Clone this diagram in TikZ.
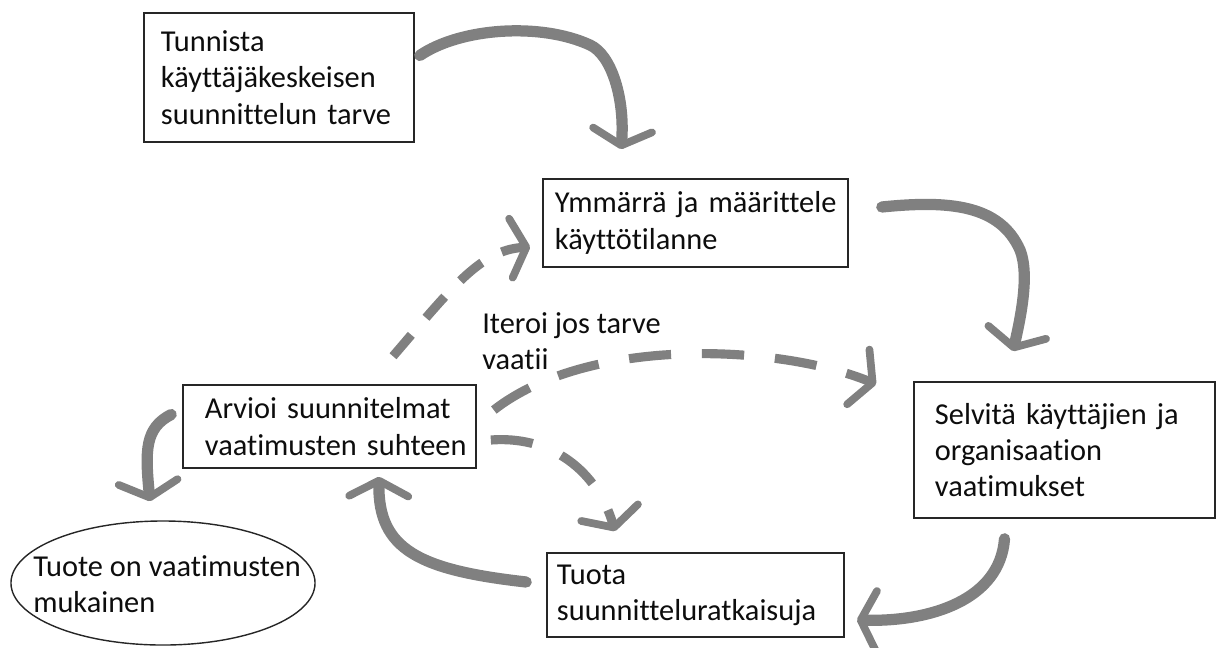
\documentclass[tikz,border=0pt]{standalone}
\usepackage{fontspec}
\setmainfont{Carlito}[Ligatures=NoCommon]
\usetikzlibrary{arrows.meta,shapes.geometric}
\begin{document}
\begin{tikzpicture}[x=0.025cm, y=-0.025cm,
  txt/.style={font={\fontsize{21.6}{25.8}\selectfont}, text=black!95},
  box/.style={txt, draw=black!85, line width=1.1pt, fill=white, align=left, inner ysep=0pt},
  flow/.style={draw=black!50, line width=8pt, line cap=round,
     -{Straight Barb[length=11pt, width=42pt, line width=5.5pt, round]}},
  dflow/.style={flow, line width=6.5pt, line cap=butt, dash pattern=on 30pt off 22pt}]
\useasboundingbox (0,0) rectangle (1216,647);

\node[box, text width=5.9cm, inner xsep=0.425cm, minimum height=3.225cm] (tunnista) at (279,77.5)
  {Tunnista\\käyttäjäkeskeisen\\suunnittelun tarve};
\node[box, text width=7.025cm, inner xsep=0.3cm, minimum height=2.2cm] (ymmarra) at (695.5,223)
  {\mbox{Ymmärrä ja määrittele}\\käyttötilanne};
\node[box, text width=6.475cm, inner xsep=0.525cm, minimum height=3.4cm] (selvita) at (1064.5,450)
  {Selvitä käyttäjien ja\\organisaation\\vaatimukset};
\node[box, text width=6.225cm, inner xsep=0.55cm, minimum height=2.075cm] (arvioi) at (329.5,426.5)
  {\mbox{Arvioi suunnitelmat}\\\mbox{vaatimusten suhteen}};
\node[box, text width=6.925cm, inner xsep=0.25cm, minimum height=2.1cm] (tuota) at (695.5,595)
  {Tuota\\suunnitteluratkaisuja};
\node[txt, draw=black!85, line width=1pt, ellipse, minimum width=7.6cm, minimum height=3.1cm, inner sep=0pt] (tuote) at (163,583)
  {\smash{\makebox[0pt]{\hspace{0.2cm}\raisebox{-8pt}{\begin{tabular}{@{}l@{}}Tuote on vaatimusten\\mukainen\end{tabular}}}}};
\node[txt, anchor=west, align=left, inner sep=0pt] (iteroi) at (482,341) {Iteroi jos tarve\\vaatii};

% solid flow arrows
\draw[flow] ([shift={(5,-22)}]tunnista.east) .. controls (460,28) and (540,22) .. (590,45)
  .. controls (612,55) and (625,100) .. ([shift={(-74.5,-29)}]ymmarra.north);
\draw[flow] ([shift={(33,-16)}]ymmarra.east) .. controls (950,200) and (1000,205) .. (1020,250)
  .. controls (1030,275) and (1020,320) .. ([shift={(-51.5,-30)}]selvita.north);
\draw[flow] ([shift={(-60,20)}]selvita.south) .. controls (1000,600) and (930,622) .. ([shift={(12,25)}]tuota.east);
\draw[flow] ([shift={(-20,-13)}]tuota.west) .. controls (420,570) and (378,550) .. ([shift={(49.5,8)}]arvioi.south);
\draw[flow] ([shift={(-11,-12)}]arvioi.west) .. controls (145,428) and (145,450) .. ([shift={(-13,-19)}]tuote.north);

% dashed iteration arrows
\draw[dflow, dash pattern=on 20pt off 16pt] ([shift={(63.5,-28)}]arvioi.north) .. controls (450,290) and (480,250) .. ([shift={(-12,24)}]ymmarra.west);
\draw[dflow] ([shift={(17,-16.5)}]arvioi.east) .. controls (590,335) and (780,345) .. ([shift={(-37,3)}]selvita.north west);
\draw[dflow] ([shift={(14,13.5)}]arvioi.east) .. controls (560,435) and (600,480) .. ([shift={(-80.5,-21)}]tuota.north);
\end{tikzpicture}
\end{document}
